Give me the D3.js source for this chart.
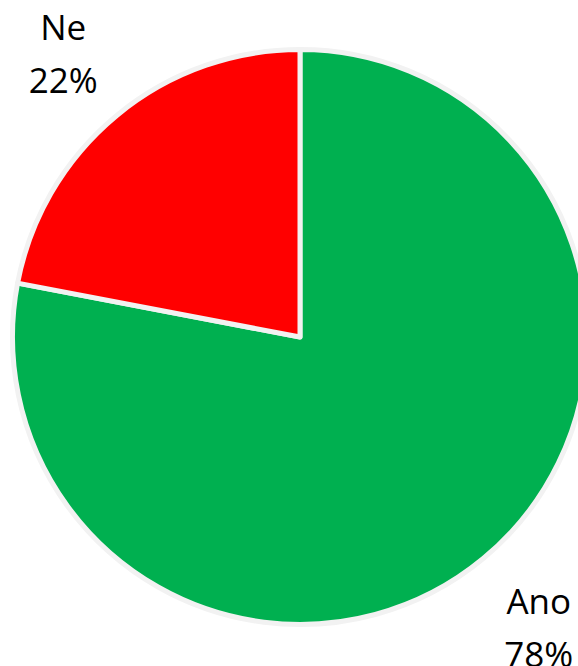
<!DOCTYPE html>
<html>
<head>
<meta charset="utf-8">
<script src="https://cdn.jsdelivr.net/npm/d3@7"></script>
<style>
  body { margin: 0; background: #fff; }
</style>
</head>
<body>
<svg id="chart" width="578" height="666"></svg>
<script>
const categories = ["Ano", "Ne"];
const values = [78, 22];
const colors = ["#00B050", "#FF0000"];
const percentLabels = ["78%", "22%"];

const width = 578, height = 666;
const cx = 300, cy = 337;
const radius = 287.5;
const labelRadius = 373;

const svg = d3.select("#chart");
const group = svg.append("g").attr("transform", `translate(${cx}, ${cy})`);

const data = categories.map((c, i) => ({ name: c, value: values[i], color: colors[i], pct: percentLabels[i] }));

const pie = d3.pie().sort(null).value(d => d.value);
const arcs = pie(data);

const arc = d3.arc().innerRadius(0).outerRadius(radius);
const labelArc = d3.arc().innerRadius(labelRadius).outerRadius(labelRadius);

group.selectAll("path")
    .data(arcs)
    .enter().append("path")
    .attr("d", arc)
    .attr("fill", d => d.data.color)
    .attr("stroke", "#f2f2f2")
    .attr("stroke-width", 5)
    .attr("stroke-linejoin", "round");

const labels = group.selectAll(".label")
    .data(arcs)
    .enter().append("text")
    .attr("class", "label")
    .attr("text-anchor", "middle")
    .style("font-family", "'Open Sans', sans-serif")
    .style("font-size", "35px")
    .style("fill", "#000");

labels.append("tspan")
    .attr("x", d => labelArc.centroid(d)[0] + 1)
    .attr("y", d => labelArc.centroid(d)[1] - 10)
    .text(d => d.data.name);

labels.append("tspan")
    .attr("x", d => labelArc.centroid(d)[0] + 1)
    .attr("y", d => labelArc.centroid(d)[1] + 43)
    .text(d => d.data.pct);
</script>
</body>
</html>
